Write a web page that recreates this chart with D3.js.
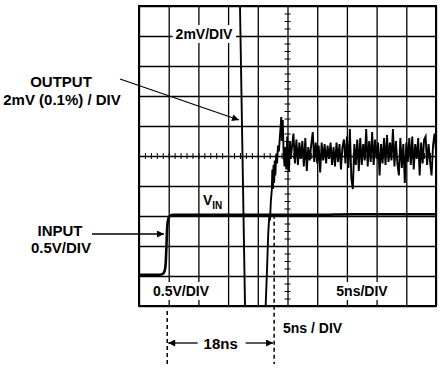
<!DOCTYPE html>
<html>
<head>
<meta charset="utf-8">
<script src="https://cdn.jsdelivr.net/npm/d3@7"></script>
<style>
  body { margin: 0; background: #fff; }
  svg text { font-family: "Liberation Sans", Arial, Helvetica, sans-serif; font-weight: bold; fill: #000; }
</style>
</head>
<body>
<div id="chart"></div>
<script>
// scope settings: 5ns/div, output 2mV/div, input 0.5V/div
const timeDomain = [0, 50];          // ns
const outputDomain = [-10, 10];      // mV
const inputDomain = [-0.52, 4.48];   // V
const gridTimes = [0, 5, 10, 15, 20, 25, 30, 35, 40, 45, 50];
const gridMv = [-10, -8, -6, -4, -2, 0, 2, 4, 6, 8, 10];
const markerTimes = [4.75, 22.75];   // 18ns apart

// input step [ns, V]
const inputTrace = [
  [0, 0], [3.5, 0], [4.0, 0.015], [4.3, 0.06], [4.5, 0.2], [4.63, 0.5], [4.75, 0.8],
  [4.92, 0.93], [5.2, 0.98], [5.65, 1.0], [7, 1.0], [20, 1.0], [30, 1.0], [36, 1.01], [50, 1.01]
];

// output settling [ns, mV]
const outputTrace = [
  [0, 12.4], [16.9, 12.4], [17.95, -12.4], [18.6, -16], [20.6, -16], [21.2, -11.3],
  [21.55, -7.6], [21.75, -5.2], [21.95, -3.9], [22.05, -4.3], [22.2, -3.0], [22.35, -2.3],
  [22.45, -0.9], [22.55, -2.2], [22.65, -0.6], [22.75, -1.8], [22.85, -0.3], [22.95, -1.3],
  [23.1, 0.1], [23.25, -0.5], [23.4, 0.7], [23.55, 0.3], [23.7, 1.2], [23.85, 2.0],
  [23.95, 2.6], [24.05, 1.0], [24.2, 2.4], [24.35, 0.2], [24.5, -0.7], [24.65, 0.6],
  [24.8, -0.9], [24.95, 1.3], [25.1, -0.6], [25.25, -1.0], [25.4, 1.0], [25.55, -0.2],
  [25.75, 0.6], [26.0, 1.5], [26.25, -0.5], [26.5, 1.1], [26.75, -0.6], [27.0, 0.9],
  [27.25, -0.2], [27.5, 1.0], [27.75, -0.7], [28.0, 1.2], [28.25, -1.0], [28.5, 0.6],
  [28.75, -0.3], [29.0, 0.8], [29.25, 1.6], [29.5, -0.4], [29.75, 0.9], [30.0, -0.5],
  [30.25, 0.7], [30.5, -1.1], [30.75, 0.9], [31.0, -0.3], [31.25, 0.8], [31.5, -0.5],
  [31.75, 0.7], [32.0, -0.2], [32.25, 0.9], [32.5, -0.6], [32.75, 0.6], [33.0, -0.7],
  [33.25, 0.9], [33.5, -0.4], [33.75, 0.8], [34.0, -0.9], [34.25, 0.6], [34.5, 1.1],
  [34.75, -0.5], [35.0, 1.3], [35.25, -0.8], [35.5, 1.8], [35.75, -1.5], [36.0, -2.2],
  [36.25, 0.8], [36.5, -0.6], [36.75, 1.1], [37.0, -1.0], [37.25, 1.2], [37.5, -0.6],
  [37.75, 0.8], [38.0, -0.3], [38.25, 1.8], [38.5, -0.7], [38.75, 1.0], [39.0, -0.4],
  [39.25, 1.6], [39.5, -0.6], [39.75, 1.1], [40.0, -0.2], [40.25, 0.9], [40.5, -1.3],
  [40.75, 0.8], [41.0, -0.5], [41.25, 1.2], [41.5, -0.6], [41.75, 1.4], [42.0, -0.4],
  [42.25, 0.9], [42.5, -0.3], [42.75, 1.8], [43.0, -0.7], [43.25, 1.0], [43.5, -0.5],
  [43.75, -1.3], [44.0, 1.2], [44.25, -0.8], [44.5, 0.8], [44.75, -1.8], [45.0, 0.9],
  [45.25, -0.4], [45.5, 1.2], [45.75, -0.6], [46.0, 1.3], [46.25, -0.9], [46.5, 0.8],
  [46.75, -0.2], [47.0, 1.2], [47.25, -1.3], [47.5, 0.9], [47.75, -0.5], [48.0, 1.1],
  [48.25, 1.3], [48.5, -0.6], [48.75, 0.8], [49.0, -0.4], [49.25, -1.3], [49.5, 0.7],
  [49.75, 1.5], [50.0, 0.3]
];

const W = 445, H = 371;
const pLeft = 139, pRight = 436, pTop = 6, pBottom = 306;

const svg = d3.select('#chart').append('svg')
  .attr('width', W).attr('height', H);

const x = d3.scaleLinear().domain(timeDomain).range([pLeft, pRight]);
const yOut = d3.scaleLinear().domain(outputDomain).range([pBottom, pTop]);
const yIn = d3.scaleLinear().domain(inputDomain).range([pBottom, pTop]);

const defs = svg.append('defs');
defs.append('clipPath').attr('id', 'plot')
  .append('rect').attr('x', pLeft).attr('y', pTop)
  .attr('width', pRight - pLeft).attr('height', pBottom - pTop);

const marker = defs.append('marker')
  .attr('id', 'head').attr('viewBox', '0 0 10 10')
  .attr('refX', 10).attr('refY', 5)
  .attr('markerWidth', 9).attr('markerHeight', 7)
  .attr('markerUnits', 'userSpaceOnUse')
  .attr('orient', 'auto');
marker.append('path').attr('d', 'M0,0L10,5L0,10Z').attr('fill', '#000');

// grid
svg.append('g')
  .attr('transform', `translate(0,${pTop})`)
  .call(d3.axisBottom(x).tickValues(gridTimes).tickSize(pBottom - pTop).tickFormat(''))
  .call(g => g.select('.domain').remove())
  .selectAll('line').attr('stroke', '#000').attr('stroke-width', 1.3);

svg.append('g')
  .attr('transform', `translate(${pLeft},0)`)
  .call(d3.axisRight(yOut).tickValues(gridMv).tickSize(pRight - pLeft).tickFormat(''))
  .call(g => g.select('.domain').remove())
  .selectAll('line').attr('stroke', '#000').attr('stroke-width', 1.3);

// minor ticks on the centre cross
svg.append('g')
  .attr('transform', `translate(0,${yOut(0) - 3})`)
  .call(d3.axisBottom(x).ticks(50).tickSize(6).tickFormat(''))
  .call(g => g.select('.domain').remove())
  .selectAll('line').attr('stroke', '#000').attr('stroke-width', 1);

svg.append('g')
  .attr('transform', `translate(${x(25) - 3},0)`)
  .call(d3.axisRight(yOut).ticks(50).tickSize(6).tickFormat(''))
  .call(g => g.select('.domain').remove())
  .selectAll('line').attr('stroke', '#000').attr('stroke-width', 1);

svg.append('rect')
  .attr('x', pLeft).attr('y', pTop)
  .attr('width', pRight - pLeft).attr('height', pBottom - pTop)
  .attr('fill', 'none').attr('stroke', '#000').attr('stroke-width', 2);

// labels inside the screen, on white
function boxLabel(txt, cx, by) {
  const t = svg.append('text').attr('x', cx).attr('y', by)
    .attr('text-anchor', 'middle').style('font-size', '14px').text(txt);
  const b = t.node().getBBox();
  svg.insert('rect', () => t.node())
    .attr('x', b.x - 3).attr('y', b.y - 1)
    .attr('width', b.width + 6).attr('height', b.height + 2)
    .attr('fill', '#fff');
}
boxLabel('2mV/DIV', 204, 39);
boxLabel('0.5V/DIV', 181, 296);
boxLabel('5ns/DIV', 362, 296);

const vin = svg.append('text').attr('x', 203).attr('y', 205).style('font-size', '14px');
vin.append('tspan').text('V');
vin.append('tspan').attr('dy', 4).style('font-size', '10px').text('IN');

// traces
const plot = svg.append('g').attr('clip-path', 'url(#plot)');

plot.append('path')
  .datum(inputTrace)
  .attr('fill', 'none').attr('stroke', '#000').attr('stroke-width', 2.6)
  .attr('stroke-linejoin', 'round')
  .attr('d', d3.line().x(d => x(d[0])).y(d => yIn(d[1])).curve(d3.curveMonotoneX));

plot.append('path')
  .datum(outputTrace)
  .attr('fill', 'none').attr('stroke', '#000').attr('stroke-width', 1.9)
  .attr('stroke-linejoin', 'miter')
  .attr('d', d3.line().x(d => x(d[0])).y(d => yOut(d[1])));

// 18ns markers
svg.append('line')
  .attr('x1', x(markerTimes[0])).attr('x2', x(markerTimes[0]))
  .attr('y1', 311).attr('y2', 364)
  .attr('stroke', '#000').attr('stroke-width', 1.5).attr('stroke-dasharray', '4,3');
svg.append('line')
  .attr('x1', x(markerTimes[1])).attr('x2', x(markerTimes[1]))
  .attr('y1', yIn(1)).attr('y2', 364)
  .attr('stroke', '#000').attr('stroke-width', 1.5).attr('stroke-dasharray', '4,3');

const midX = (x(markerTimes[0]) + x(markerTimes[1])) / 2;
svg.append('line')
  .attr('x1', midX - 23).attr('x2', x(markerTimes[0]) + 1).attr('y1', 343).attr('y2', 343)
  .attr('stroke', '#000').attr('stroke-width', 1.3).attr('marker-end', 'url(#head)');
svg.append('line')
  .attr('x1', midX + 25).attr('x2', x(markerTimes[1]) - 1).attr('y1', 343).attr('y2', 343)
  .attr('stroke', '#000').attr('stroke-width', 1.3).attr('marker-end', 'url(#head)');
svg.append('text').attr('x', midX).attr('y', 349)
  .attr('text-anchor', 'middle').style('font-size', '15px').text('18ns');

svg.append('text').attr('x', 283).attr('y', 333)
  .style('font-size', '14px').text('5ns / DIV');

// outside annotations
svg.append('text').attr('x', 61).attr('y', 87)
  .attr('text-anchor', 'middle').style('font-size', '15px').text('OUTPUT');
svg.append('text').attr('x', 62).attr('y', 105)
  .attr('text-anchor', 'middle').style('font-size', '15px').text('2mV (0.1%) / DIV');
svg.append('line')
  .attr('x1', 120).attr('y1', 79).attr('x2', 239).attr('y2', 120)
  .attr('stroke', '#000').attr('stroke-width', 1.2).attr('marker-end', 'url(#head)');

svg.append('text').attr('x', 60).attr('y', 236)
  .attr('text-anchor', 'middle').style('font-size', '15px').text('INPUT');
svg.append('text').attr('x', 61).attr('y', 253)
  .attr('text-anchor', 'middle').style('font-size', '15px').text('0.5V/DIV');
svg.append('line')
  .attr('x1', 92).attr('y1', 234).attr('x2', 164).attr('y2', 234)
  .attr('stroke', '#000').attr('stroke-width', 1.3).attr('marker-end', 'url(#head)');
</script>
</body>
</html>
